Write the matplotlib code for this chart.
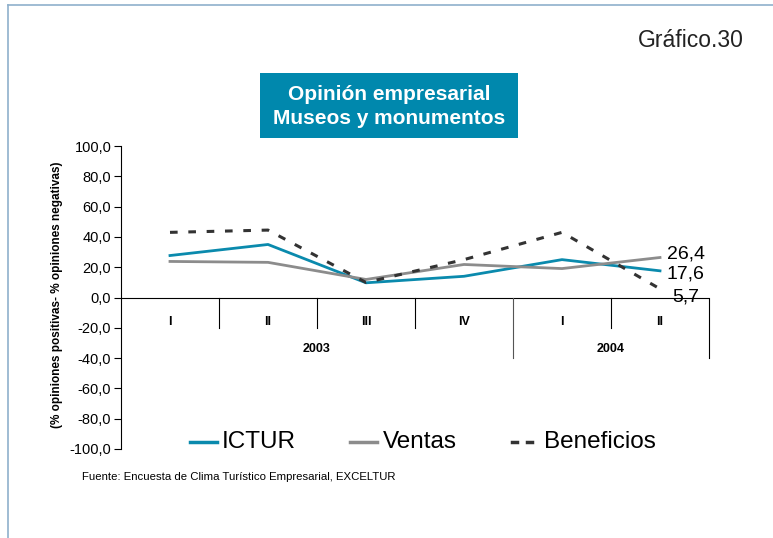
import matplotlib
matplotlib.use("Agg")
import matplotlib.pyplot as plt
from matplotlib.patches import Rectangle
from matplotlib.lines import Line2D

quarters = ["I", "II", "III", "IV", "I", "II"]
years = ["2003", "2004"]
ictur = [27.7, 35.0, 9.7, 14.0, 25.0, 17.6]
ventas = [23.8, 23.2, 11.9, 21.8, 19.1, 26.4]
beneficios = [43.0, 44.5, 9.9, 25.0, 43.0, 5.7]
yticks = [100, 80, 60, 40, 20, 0, -20, -40, -60, -80, -100]

plt.rcParams['font.family'] = ['Liberation Sans', 'DejaVu Sans']

W, H = 773, 538
fig = plt.figure(figsize=(W/100, H/100), dpi=100)

def fx(px):
    return px / W

def fy(py):
    return 1 - py / H

# frame lines (left and top)
border = "#8fb0cc"
fig.add_artist(Line2D([fx(8), fx(8)], [0, fy(5)], color=border, lw=1.2))
fig.add_artist(Line2D([fx(8), 1], [fy(5), fy(5)], color=border, lw=1.2))

fig.text(fx(744), fy(47), "Gráfico.30", ha="right", va="baseline", fontsize=16.5, color="#222222")

# title box
fig.add_artist(Rectangle((fx(260), fy(138)), 258/W, 65/H, transform=fig.transFigure,
                         facecolor="#0088ad", edgecolor="none"))
fig.text(fx(389), fy(94), "Opinión empresarial", ha="center", va="center",
         fontsize=15, fontweight="bold", color="white")
fig.text(fx(389), fy(119), "Museos y monumentos", ha="center", va="center",
         fontsize=15, fontweight="bold", color="white")

ax = fig.add_axes([fx(121), (H-449)/H, 588/W, 303/H])
ax.set_xlim(0, 6)
ax.set_ylim(-100, 100)
for s in ["top", "right", "bottom"]:
    ax.spines[s].set_visible(False)
ax.spines["left"].set_linewidth(0.8)
ax.set_yticks(yticks)
ax.set_yticklabels([f"{v:.1f}".replace(".", ",") for v in yticks], fontsize=10.5)
ax.tick_params(axis="y", length=5, width=0.8, pad=2)
ax.set_xticks([])

ax.axhline(0, color="black", lw=0.8)
for i in range(1, 7):
    if i in (4, 6):
        ax.plot([i, i], [0, -40], color="black" if i == 6 else "#555555", lw=0.8, clip_on=False)
    else:
        ax.plot([i, i], [0, -20], color="black", lw=0.8, clip_on=False)

x = [i + 0.5 for i in range(6)]
for xi, q in zip(x, quarters):
    ax.text(xi, -16, q, ha="center", va="center", fontsize=9, fontweight="bold")
ax.text(2.0, -34, years[0], ha="center", va="center", fontsize=9, fontweight="bold")
ax.text(5.0, -34, years[1], ha="center", va="center", fontsize=9, fontweight="bold")

c_ictur, c_ventas, c_ben = "#0a8aad", "#8c8c8c", "#333333"
ax.plot(x, ictur, color=c_ictur, lw=2.0)
ax.plot(x, ventas, color=c_ventas, lw=2.0)
ax.plot(x, beneficios, color=c_ben, lw=2.2, ls=(0, (2.5, 3.5)))

ax.text(5.57, ventas[-1] + 2.6, f"{ventas[-1]:.1f}".replace(".", ","), fontsize=14, va="center")
ax.text(5.57, ictur[-1] - 2.4, f"{ictur[-1]:.1f}".replace(".", ","), fontsize=14, va="center")
ax.text(5.62, beneficios[-1] - 5.7, f"{beneficios[-1]:.1f}".replace(".", ","), fontsize=14, va="center")

# legend, drawn by hand
ly = fy(442)
fig.add_artist(Line2D([fx(190), fx(217)], [ly, ly], color=c_ictur, lw=2.5))
fig.text(fx(222), ly, "ICTUR", ha="left", va="center", fontsize=17.5)
fig.add_artist(Line2D([fx(350), fx(377)], [ly, ly], color=c_ventas, lw=2.5))
fig.text(fx(383), ly, "Ventas", ha="left", va="center", fontsize=17.5)
fig.add_artist(Line2D([fx(512), fx(517)], [ly, ly], color=c_ben, lw=2.5))
fig.add_artist(Line2D([fx(527), fx(532)], [ly, ly], color=c_ben, lw=2.5))
fig.text(fx(544), ly, "Beneficios", ha="left", va="center", fontsize=17.5)

fig.text(fx(57), fy(295), "(% opiniones positivas- % opiniones negativas)", rotation=90,
         ha="center", va="center", fontsize=8.5, fontweight="bold")

fig.text(fx(82), fy(477), "Fuente: Encuesta de Clima Turístico Empresarial, EXCELTUR",
         ha="left", va="center", fontsize=8.2)

fig.savefig("out.png", dpi=100)
